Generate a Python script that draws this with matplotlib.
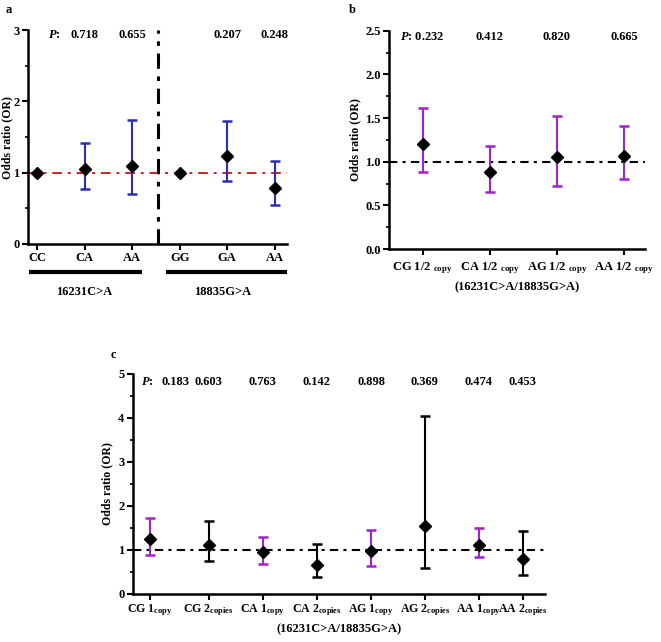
import matplotlib
matplotlib.use("Agg")
import matplotlib.pyplot as plt
from matplotlib.ticker import MultipleLocator

plt.rcParams['font.family'] = ['Liberation Serif', 'DejaVu Serif']
plt.rcParams['font.weight'] = 'bold'
plt.rcParams['mathtext.fontset'] = 'custom'
plt.rcParams['mathtext.rm'] = 'Liberation Serif:bold'
plt.rcParams['mathtext.it'] = 'Liberation Serif:italic:bold'
plt.rcParams['mathtext.bf'] = 'Liberation Serif:bold'

# ---------------- data ----------------
# Panel a
a_labels = ["CC", "CA", "AA", "GG", "GA", "AA"]
a_or = [1.0, 1.05, 1.10, 1.0, 1.23, 0.79]
a_lo = [1.0, 0.77, 0.70, 1.0, 0.88, 0.55]
a_hi = [1.0, 1.42, 1.74, 1.0, 1.72, 1.16]
a_p = ["", "0.718", "0.655", "", "0.207", "0.248"]
a_groups = ["16231C>A", "18835G>A"]

# Panel b
b_labels = ["CG 1/2 $_{\\mathrm{copy}}$", "CA 1/2 $_{\\mathrm{copy}}$",
            "AG 1/2 $_{\\mathrm{copy}}$", "AA 1/2 $_{\\mathrm{copy}}$"]
b_or = [1.20, 0.88, 1.05, 1.065]
b_lo = [0.885, 0.65, 0.72, 0.80]
b_hi = [1.62, 1.18, 1.52, 1.41]
b_p = ["0.232", "0.412", "0.820", "0.665"]

# Panel c
c_labels = ["CG 1$_{\\mathrm{copy}}$", "CG 2$_{\\mathrm{copies}}$",
            "CA 1$_{\\mathrm{copy}}$", "CA 2$_{\\mathrm{copies}}$",
            "AG 1$_{\\mathrm{copy}}$", "AG 2$_{\\mathrm{copies}}$",
            "AA 1$_{\\mathrm{copy}}$", "AA 2$_{\\mathrm{copies}}$"]
c_pos = [0, 1.09, 2.09, 3.09, 4.1, 5.09, 6.09, 6.9]
c_or = [1.24, 1.11, 0.95, 0.65, 0.98, 1.55, 1.11, 0.79]
c_lo = [0.88, 0.74, 0.68, 0.38, 0.64, 0.59, 0.83, 0.42]
c_hi = [1.73, 1.65, 1.30, 1.14, 1.45, 4.03, 1.50, 1.44]
c_p = ["0.183", "0.603", "0.763", "0.142", "0.898", "0.369", "0.474", "0.453"]

BLUE = "#2a2fb0"
PURPLE = "#a021d0"
RED = "#cc2222"
FS = 9

fig = plt.figure(figsize=(6.61, 6.42), dpi=100)


def style_axis(ax, fs=FS):
    for s in ["top", "right"]:
        ax.spines[s].set_visible(False)
    for s in ["left", "bottom"]:
        ax.spines[s].set_linewidth(1.8)
    ax.tick_params(axis="both", which="major", length=4, width=1.5, labelsize=fs, pad=2)
    ax.tick_params(axis="y", which="minor", length=2.5, width=1.2)
    ax.tick_params(axis="x", which="minor", length=0)
    ax.set_ylabel("Odds ratio (OR)", fontsize=8.5, fontweight="bold")


def draw_points(ax, xs, ors, los, his, colors, skip_err=()):
    for i, (x, o, lo, hi, c) in enumerate(zip(xs, ors, los, his, colors)):
        if i not in skip_err:
            ax.errorbar([x], [o], yerr=[[o - lo], [hi - o]], fmt="none",
                        ecolor=c, elinewidth=1.5, capsize=3.5, capthick=1.8, zorder=3)
        ax.plot([x], [o], marker="D", color="black", markersize=5.8, zorder=4, clip_on=False)


# ---------------- panel a ----------------
ax = fig.add_axes([0.0424, 0.620, 0.392, 0.333])
xa = [0, 1, 2, 3, 4, 5]
ax.set_xlim(-0.19, 5.26)
ax.set_ylim(0, 3)
ax.axhline(1.0, color=RED, lw=1.4, ls=(0, (5, 3, 1.5, 3)), zorder=2)
ax.axvline(2.55, color="black", lw=2.2, ls=(0, (5, 2.5, 1.5, 2.5)), zorder=2)
draw_points(ax, xa, a_or, a_lo, a_hi, [BLUE] * 6, skip_err=(0, 3))
ax.set_xticks(xa)
ax.set_xticklabels(a_labels)
ax.yaxis.set_major_locator(MultipleLocator(1))
ax.yaxis.set_minor_locator(MultipleLocator(0.5))
style_axis(ax)
ax.yaxis.set_label_coords(-0.058, 0.5)
ax.text(0.36, 2.93, "$\\mathit{P}$:", ha="center", va="center", fontsize=FS)
for x, p in zip(xa, a_p):
    if p:
        ax.text(x, 2.93, p, ha="center", va="center", fontsize=FS)
# group bars and labels
ax.plot([-0.17, 2.2], [-0.40, -0.40], color="black", lw=3, clip_on=False, solid_capstyle="butt")
ax.plot([2.72, 5.25], [-0.40, -0.40], color="black", lw=3, clip_on=False, solid_capstyle="butt")
ax.text(1.0, -0.67, a_groups[0], ha="center", va="center", fontsize=FS)
ax.text(3.9, -0.67, a_groups[1], ha="center", va="center", fontsize=FS)
fig.text(0.009, 0.984, "a", fontsize=9, fontweight="bold", ha="left", va="center")

# ---------------- panel b ----------------
ax = fig.add_axes([0.5885, 0.612, 0.387, 0.340])
xb = [0, 1, 2, 3]
ax.set_xlim(-0.5, 3.31)
ax.set_ylim(0, 2.5)
ax.axhline(1.0, color="black", lw=1.5, ls=(0, (4, 2.5, 1.5, 2.5)), zorder=2)
draw_points(ax, xb, b_or, b_lo, b_hi, [PURPLE] * 4)
ax.set_xticks(xb)
ax.set_xticklabels(b_labels)
ax.yaxis.set_major_locator(MultipleLocator(0.5))
ax.yaxis.set_minor_locator(MultipleLocator(0.25))
ax.yaxis.set_major_formatter(matplotlib.ticker.FormatStrFormatter("%.1f"))
style_axis(ax)
ax.tick_params(axis="x", which="major", pad=4)
ax.yaxis.set_label_coords(-0.11, 0.5)
for i, (x, p) in enumerate(zip(xb, b_p)):
    txt = "$\\mathit{P}$: " + p if i == 0 else p
    ax.text(x, 2.43, txt, ha="center", va="center", fontsize=FS)
ax.set_xlabel("(16231C>A/18835G>A)", fontsize=FS, fontweight="bold", labelpad=4)
fig.text(0.527, 0.984, "b", fontsize=9, fontweight="bold", ha="left", va="center")

# ---------------- panel c ----------------
ax = fig.add_axes([0.201, 0.0748, 0.623, 0.343])
ax.set_xlim(-0.31, 7.31)
ax.set_ylim(0, 5)
ax.axhline(1.0, color="black", lw=1.5, ls=(0, (4, 2.5, 1.5, 2.5)), zorder=2)
c_colors = [PURPLE, "black"] * 4
draw_points(ax, c_pos, c_or, c_lo, c_hi, c_colors)
ax.set_xticks(c_pos)
ax.set_xticklabels(c_labels)
ax.yaxis.set_major_locator(MultipleLocator(1))
ax.yaxis.set_minor_locator(MultipleLocator(0.5))
style_axis(ax)
ax.tick_params(axis="x", which="major", labelsize=8.6)
ax.yaxis.set_label_coords(-0.048, 0.5)
ax.text(-0.04, 4.82, "$\\mathit{P}$:", ha="center", va="center", fontsize=FS)
c_text_x = [0.48] + c_pos[1:]
for x, p in zip(c_text_x, c_p):
    ax.text(x, 4.82, p, ha="center", va="center", fontsize=FS)
ax.set_xlabel("(16231C>A/18835G>A)", fontsize=FS, fontweight="bold", labelpad=4)
fig.text(0.168, 0.447, "c", fontsize=9, fontweight="bold", ha="left", va="center")

fig.savefig("out.png", dpi=100)
